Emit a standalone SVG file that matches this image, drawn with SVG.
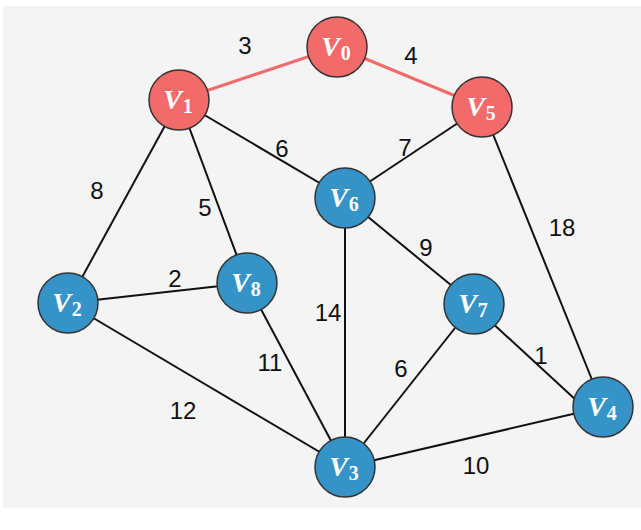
<svg xmlns="http://www.w3.org/2000/svg" width="641" height="530" viewBox="0 0 641 530">
<style>
.e{stroke:#111;stroke-width:2;fill:none}
.r{stroke:#f26b6b;stroke-width:3;fill:none}
.w{font-family:"Liberation Sans",Arial,sans-serif;font-size:24px;fill:#111;text-anchor:middle}
.red{fill:#f26a6a;stroke:#333;stroke-width:1.5}
.blue{fill:#3593c8;stroke:#333;stroke-width:1.5}
.lab{font-family:"Liberation Serif","DejaVu Serif",serif;font-weight:bold;font-style:italic;font-size:28px;fill:#fff;text-anchor:middle}
.sub{font-style:normal;font-size:20px}
</style>
<rect x="0" y="0" width="641" height="530" fill="#ffffff"/>
<rect x="3" y="6" width="638" height="502" fill="#f4f4f4"/>
<g id="connectors">
<line class="r" x1="179" y1="100" x2="337" y2="47"/>
<line class="r" x1="337" y1="47" x2="482" y2="107"/>
<line class="e" x1="179" y1="100" x2="68" y2="303"/>
<line class="e" x1="179" y1="100" x2="247" y2="283"/>
<line class="e" x1="179" y1="100" x2="345" y2="198"/>
<line class="e" x1="482" y1="107" x2="345" y2="198"/>
<line class="e" x1="482" y1="107" x2="603" y2="407"/>
<line class="e" x1="345" y1="198" x2="474" y2="304"/>
<line class="e" x1="345" y1="198" x2="345" y2="467"/>
<line class="e" x1="68" y1="303" x2="247" y2="283"/>
<line class="e" x1="68" y1="303" x2="345" y2="467"/>
<line class="e" x1="247" y1="283" x2="345" y2="467"/>
<line class="e" x1="474" y1="304" x2="345" y2="467"/>
<line class="e" x1="476" y1="308" x2="590" y2="413"/>
<line class="e" x1="345" y1="467" x2="603" y2="407"/>
<text class="w" x="245" y="54">3</text>
<text class="w" x="411" y="64">4</text>
<text class="w" x="282" y="157">6</text>
<text class="w" x="405" y="156">7</text>
<text class="w" x="97" y="199">8</text>
<text class="w" x="205" y="216">5</text>
<text class="w" x="562" y="236">18</text>
<text class="w" x="426" y="256">9</text>
<text class="w" x="175" y="287">2</text>
<text class="w" x="328" y="321">14</text>
<text class="w" x="270" y="371">11</text>
<text class="w" x="401" y="377">6</text>
<text class="w" x="541" y="364">1</text>
<text class="w" x="183" y="419">12</text>
<text class="w" x="476" y="474">10</text>
</g>
<g id="V0"><circle class="red" cx="337" cy="47" r="30"/><text class="lab" x="336" y="56">V<tspan class="sub" dx="1" dy="4">0</tspan></text></g>
<g id="V1"><circle class="red" cx="179" cy="100" r="30"/><text class="lab" x="178" y="109">V<tspan class="sub" dx="1" dy="4">1</tspan></text></g>
<g id="V5"><circle class="red" cx="482" cy="107" r="30"/><text class="lab" x="481" y="116">V<tspan class="sub" dx="1" dy="4">5</tspan></text></g>
<g id="V6"><circle class="blue" cx="345" cy="198" r="30"/><text class="lab" x="344" y="207">V<tspan class="sub" dx="1" dy="4">6</tspan></text></g>
<g id="V2"><circle class="blue" cx="68" cy="303" r="30"/><text class="lab" x="67" y="312">V<tspan class="sub" dx="1" dy="4">2</tspan></text></g>
<g id="V8"><circle class="blue" cx="247" cy="283" r="30"/><text class="lab" x="246" y="292">V<tspan class="sub" dx="1" dy="4">8</tspan></text></g>
<g id="V7"><circle class="blue" cx="474" cy="304" r="30"/><text class="lab" x="473" y="313">V<tspan class="sub" dx="1" dy="4">7</tspan></text></g>
<g id="V4"><circle class="blue" cx="603" cy="407" r="30"/><text class="lab" x="602" y="416">V<tspan class="sub" dx="1" dy="4">4</tspan></text></g>
<g id="V3"><circle class="blue" cx="345" cy="467" r="30"/><text class="lab" x="344" y="476">V<tspan class="sub" dx="1" dy="4">3</tspan></text></g>
</svg>
